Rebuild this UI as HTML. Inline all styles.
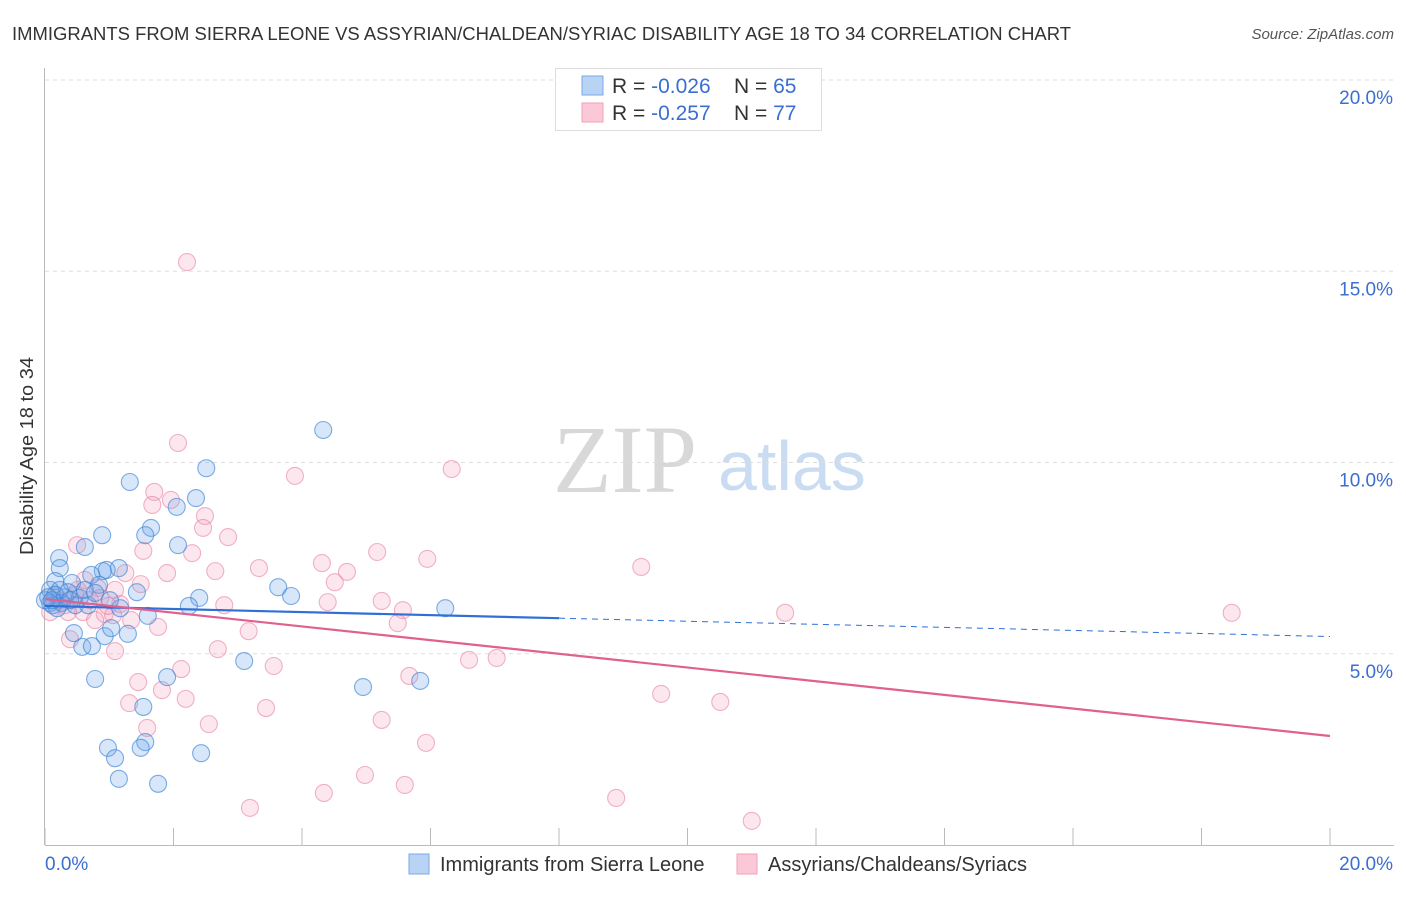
<!DOCTYPE html>
<html><head><meta charset="utf-8"><style>
body{margin:0;background:#fff;width:1406px;height:892px;overflow:hidden;font-family:"Liberation Sans",sans-serif;}
</style></head><body>
<svg id="chart" width="1406" height="892" xmlns="http://www.w3.org/2000/svg" font-family="Liberation Sans, sans-serif">
<text x="12" y="40" font-size="18" fill="#333" textLength="1059" lengthAdjust="spacingAndGlyphs">IMMIGRANTS FROM SIERRA LEONE VS ASSYRIAN/CHALDEAN/SYRIAC DISABILITY AGE 18 TO 34 CORRELATION CHART</text>
<text x="1394" y="39" font-size="15" fill="#555" font-style="italic" text-anchor="end">Source: ZipAtlas.com</text>
<text transform="translate(33,456) rotate(-90)" font-size="18" fill="#333" text-anchor="middle" textLength="198" lengthAdjust="spacingAndGlyphs">Disability Age 18 to 34</text>
<g>
<text x="553" y="492" font-family="Liberation Serif, serif" font-size="96" fill="#d8d8d8">ZIP</text>
<text x="718" y="490" font-size="70" fill="#c9dcf2">atlas</text>
</g>
<g id="grid"></g><g id="axes"></g><g id="pts"></g><g id="lines"></g>
<g>
<rect x="555.5" y="68.5" width="266" height="62" fill="#fff" stroke="#ddd"/>
<rect x="582" y="76" width="21" height="19" fill="#b8d3f4" stroke="#7aaae6"/>
<rect x="582" y="103" width="21" height="19" fill="#fac8d6" stroke="#f0a0b8"/>
<text x="612" y="93" font-size="21" fill="#333">R = <tspan fill="#3a6fd0">-0.026</tspan><tspan x="734">N = </tspan><tspan fill="#3a6fd0">65</tspan></text>
<text x="612" y="120" font-size="21" fill="#333">R = <tspan fill="#3a6fd0"> -0.257</tspan><tspan x="734">N = </tspan><tspan fill="#3a6fd0">77</tspan></text>
</g>
<g>
<rect x="409" y="854" width="20" height="20" fill="#b8d3f4" stroke="#7aaae6"/>
<text x="440" y="871" font-size="20" fill="#333">Immigrants from Sierra Leone</text>
<rect x="737" y="854" width="20" height="20" fill="#fac8d6" stroke="#f0a0b8"/>
<text x="768" y="871" font-size="20" fill="#333">Assyrians/Chaldeans/Syriacs</text>
</g>
</svg>
<script>
const blueX=[4.33,2.51,1.32,2.35,2.05,1.65,1.56,0.89,0.62,2.07,0.22,0.23,1.15,0.96,0.90,0.72,0.16,0.42,0.84,3.63,1.43,3.83,2.40,0.08,0.16,0.31,0.54,1.17,2.24,6.23,1.60,0.12,0.26,0.47,0.67,1.29,0.93,1.03,0.45,0.58,0.73,3.10,0.78,1.90,4.95,5.84,1.53,0.98,1.56,1.49,1.09,2.43,1.15,1.76,0.08,0.19,0.00,0.36,0.62,0.78,0.23,1.01,0.05,0.11,0.39];
const blueY=[10.85,9.85,9.49,9.07,8.84,8.29,8.10,8.10,7.79,7.84,7.50,7.24,7.24,7.19,7.16,7.06,6.90,6.85,6.80,6.74,6.61,6.51,6.46,6.67,6.54,6.48,6.46,6.19,6.25,6.19,5.99,6.27,6.33,6.27,6.27,5.52,5.46,5.67,5.54,5.18,5.20,4.81,4.34,4.39,4.13,4.29,3.61,2.54,2.69,2.54,2.27,2.40,1.73,1.60,6.33,6.19,6.40,6.61,6.67,6.59,6.67,6.40,6.48,6.40,6.40];
const pinkX=[2.21,2.07,3.89,6.33,1.70,1.96,1.67,2.49,2.46,2.85,0.50,1.53,2.29,5.17,5.95,4.31,9.28,3.33,1.90,2.65,1.25,4.70,4.51,1.49,0.82,1.09,5.24,4.40,2.79,5.57,11.52,18.47,0.59,0.93,1.06,1.34,5.49,1.76,3.17,0.39,1.09,2.69,6.60,7.03,3.56,2.12,1.45,5.67,1.82,2.19,9.59,10.51,1.31,3.44,1.59,2.55,5.24,5.93,4.98,4.34,5.60,3.19,8.89,11.00,0.23,0.31,0.08,0.47,0.70,0.86,0.16,0.62,1.17,0.36,0.78,0.51,0.98];
const pinkY=[15.24,10.51,9.65,9.83,9.23,9.02,8.89,8.60,8.29,8.05,7.84,7.69,7.63,7.66,7.48,7.37,7.27,7.24,7.11,7.16,7.11,7.14,6.87,6.82,6.72,6.67,6.38,6.35,6.27,6.14,6.07,6.07,6.09,6.04,6.01,5.88,5.80,5.70,5.59,5.38,5.07,5.12,4.84,4.89,4.68,4.60,4.26,4.42,4.05,3.82,3.95,3.74,3.71,3.58,3.06,3.16,3.27,2.67,1.83,1.36,1.57,0.97,1.23,0.63,6.40,6.27,6.09,6.54,6.40,6.46,6.54,6.93,6.30,6.09,5.88,6.67,6.25];
const yTicks=[5,10,15,20];
const yTickLabels=["5.0%","10.0%","15.0%","20.0%"];
const blueTrend=[6.25,-0.04];
const pinkTrend=[6.43,-0.179];
const NS="http://www.w3.org/2000/svg";
const sx=v=>45+v/20*1285, sy=v=>845-v*38.25;
function mk(t,a,p){const e=document.createElementNS(NS,t);for(const k in a)e.setAttribute(k,a[k]);p.appendChild(e);return e;}
const grid=document.getElementById('grid'),axes=document.getElementById('axes');
yTicks.forEach((v,i)=>{
 const l=mk('line',{x1:45,x2:1394,y1:sy(v),y2:sy(v),stroke:'#ddd','stroke-dasharray':'4,4'},grid);
 
 
 const t=mk('text',{x:1393,y:sy(v)+24,'font-size':19,fill:'#3a6fd0','text-anchor':'end'},axes);
 t.textContent=yTickLabels[i];
 
 
});
const ya=mk('line',{x1:44.5,x2:44.5,y1:68,y2:845,stroke:'#bbb'},axes);


const xa=mk('line',{x1:45,x2:1394,y1:845.5,y2:845.5,stroke:'#bbb'},axes);


for(let v=0;v<=20;v+=2){const t=mk('line',{x1:sx(v),x2:sx(v),y1:828,y2:845,stroke:'#bbb'},axes);
 
 }
[["0.0%",45,'start'],["20.0%",1393,'end']].forEach(d=>{const t=mk('text',{x:d[1],y:870,'font-size':19,fill:'#3a6fd0','text-anchor':d[2]},axes);t.textContent=d[0];
 
 });
const pts=document.getElementById('pts');
pinkX.forEach((x,i)=>{const c=mk('circle',{cx:sx(x),cy:sy(pinkY[i]),r:8.5,fill:'rgba(245,160,190,0.25)',stroke:'rgba(232,130,160,0.6)','stroke-width':1.1},pts);
 
 });
blueX.forEach((x,i)=>{const c=mk('circle',{cx:sx(x),cy:sy(blueY[i]),r:8.5,fill:'rgba(110,165,230,0.28)',stroke:'rgba(60,130,215,0.65)','stroke-width':1.1},pts);
 
 });
const lines=document.getElementById('lines');
const f=(t,x)=>t[0]+t[1]*x;
const b1=mk('line',{x1:sx(0),y1:sy(f(blueTrend,0)),x2:sx(8),y2:sy(f(blueTrend,8)),stroke:'#2f6fd6','stroke-width':2.2},lines);


const b2=mk('line',{x1:sx(8),y1:sy(f(blueTrend,8)),x2:sx(20),y2:sy(f(blueTrend,20)),stroke:'#2f6fd6','stroke-width':1,'stroke-dasharray':'6,5'},lines);


const p1=mk('line',{x1:sx(0),y1:sy(f(pinkTrend,0)),x2:sx(20),y2:sy(f(pinkTrend,20)),stroke:'#e0608f','stroke-width':2.2},lines);


</script>
</body></html>
